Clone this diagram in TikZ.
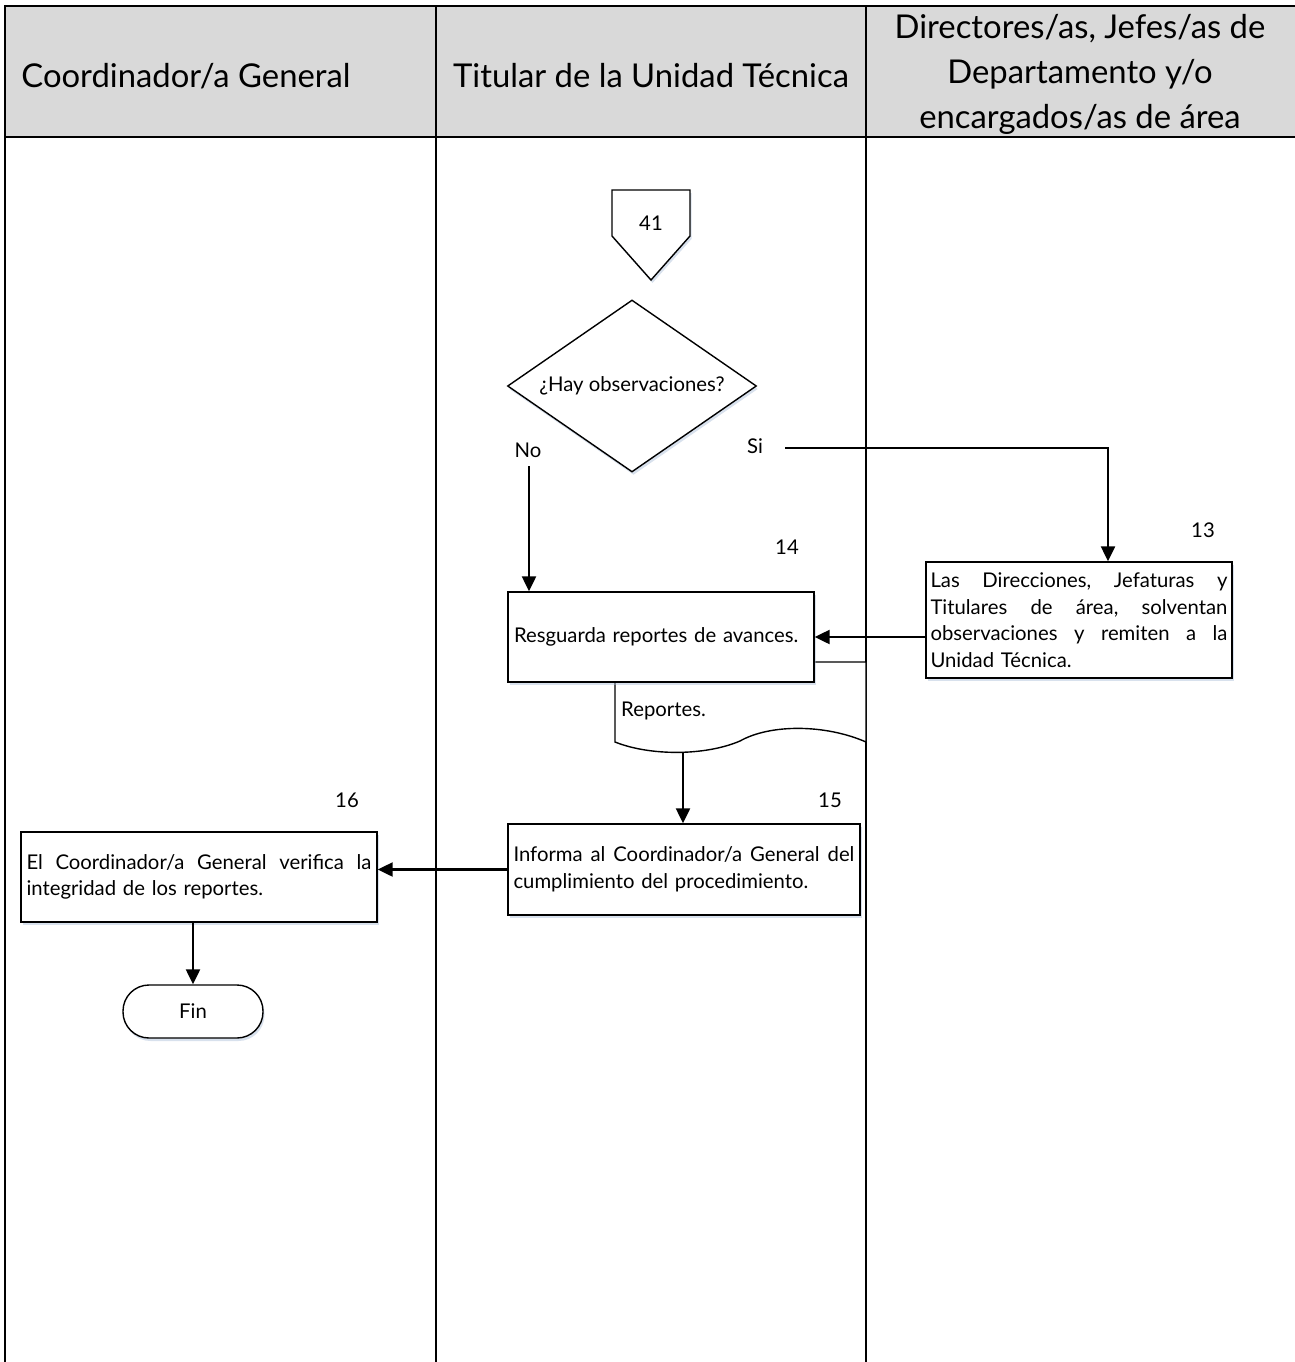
\documentclass[tikz,border=0pt]{standalone}
\usepackage{fontspec}
\setmainfont{Lato}
\usetikzlibrary{arrows.meta,shapes.geometric,shadows}
\definecolor{hdr}{HTML}{D9D9D9}
\definecolor{shd}{HTML}{A9BCD6}
\newcommand\jl[2]{\hbox to #1{#2}}
\begin{document}
\begin{tikzpicture}[x=1pt,y=-1pt,
  lane/.style={line width=1.9pt},
  sh/.style={drop shadow={shadow xshift=1.5pt,shadow yshift=-3pt,fill=shd,opacity=.45}},
  box/.style={draw, line width=1.4pt, fill=white, sh, inner ysep=0pt, font=\fontsize{20.3}{26.5}\selectfont},
  arr/.style={line width=2.3pt,-{Triangle[length=15pt,width=14pt]}},
  txt/.style={font=\fontsize{20.3}{26}\selectfont, inner sep=0pt},
  num/.style={font=\fontsize{20.3}{24}\selectfont, inner sep=0pt},
  head/.style={font=\fontsize{32.8}{45}\selectfont, align=center, inner sep=0pt}]
\useasboundingbox (0,0) rectangle (1295,1362);
% header
\fill[hdr] (5,6) rectangle (1295,137);
\draw[lane] (4,6) -- (1295,6);
\draw[lane] (4,137) -- (1295,137);
\draw[lane] (5,5) -- (5,1362);
\draw[lane] (436,6) -- (436,1362);
\draw[lane] (866,6) -- (866,1362);
\node[head] (h1) at (186,76) {Coordinador/a General};
\node[head] (h2) at (651,76) {Titular de la Unidad Técnica};
\node[head] (h3) at (1080,74) {Directores/as, Jefes/as de\\Departamento y/o\\encargados/as de área};
% off-page connector
\path[draw, line width=1.4pt, fill=white, sh] (612,190) -- (690,190) -- (690,236) -- (651,280) -- (612,236) -- cycle;
\node[num] (c41) at (651,223) {41};
% decision
\node[draw, diamond, aspect=1.45, line width=1.4pt, minimum width=249pt, minimum height=172pt, inner sep=0pt, fill=white, sh, txt] (dec) at (632,386) {¿Hay observaciones?};
\node[txt] (lno) at (528,450) {No};
\node[txt] (lsi) at (755,446) {Si};
% document
\path[draw, line width=1.4pt, fill=white] (615,662) -- (866,662) -- (866,742)
  .. controls (825,724) and (770,724) .. (740,741)
  .. controls (705,756) and (650,756) .. (615,742) -- cycle;
\node[txt, anchor=west] (doc) at (621,711) {Reportes.};
% boxes
\node[box, minimum width=306pt, minimum height=90pt, text width=294pt, inner xsep=6pt, align=left] (b14) at (661,637) {Resguarda reportes de avances.};
\node[box, minimum width=306pt, minimum height=116pt, text width=297pt, inner xsep=4.5pt] (b13) at (1079,620) {\vbox{\jl{297pt}{Las\hfill Direcciones,\hfill Jefaturas\hfill y}\jl{297pt}{Titulares\hfill de\hfill área,\hfill solventan}\jl{297pt}{observaciones\hfill y\hfill remiten\hfill a\hfill la}\hbox{Unidad Técnica.}}};
\node[box, minimum width=352pt, minimum height=91pt, text width=341pt, inner xsep=5.5pt] (b15) at (684,869.5) {\vbox{\jl{341pt}{Informa\hfill al\hfill Coordinador/a\hfill General\hfill del}\hbox{cumplimiento del procedimiento.}}};
\node[box, minimum width=356pt, minimum height=90pt, text width=345pt, inner xsep=5.5pt] (b16) at (199,877) {\vbox{\jl{345pt}{El\hfill Coordinador/a\hfill General\hfill verifica\hfill la}\hbox{integridad de los reportes.}}};
\node[box, rounded corners=26pt, minimum width=140pt, minimum height=53pt, inner xsep=0pt] (fin) at (193,1011.5) {Fin};
% numbers
\node[num] (n13) at (1203,530) {13};
\node[num] (n14) at (787,547) {14};
\node[num] (n15) at (830,800) {15};
\node[num] (n16) at (347,800) {16};
% connectors
\coordinate (si) at (785,448);
\coordinate (sic) at (1108,448);
\draw[arr] (si) -- (sic) -- (sic |- b13.north);
\coordinate (no) at (529,466);
\draw[arr] (no) -- (no |- b14.north);
\draw[arr] (b13.west |- b14.east) -- (b14.east);
\coordinate (docb) at (683,752);
\draw[arr] (docb) -- (docb |- b15.north);
\draw[arr] (b15.west) -- (b15.west -| b16.east);
\draw[arr] (fin.north |- b16.south) -- (fin.north);
\end{tikzpicture}
\end{document}
